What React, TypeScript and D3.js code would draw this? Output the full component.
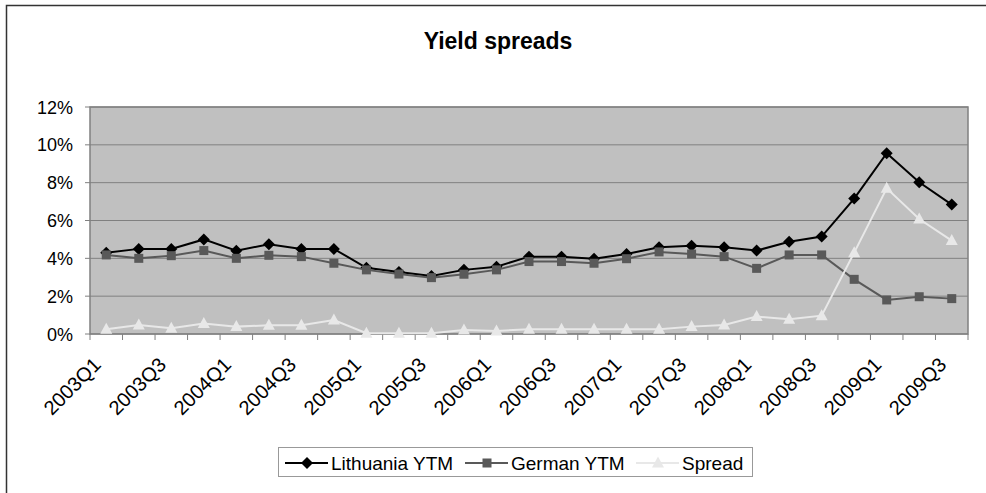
import * as d3 from "d3";

const quarters = [
  "2003Q1", "2003Q2", "2003Q3", "2003Q4",
  "2004Q1", "2004Q2", "2004Q3", "2004Q4",
  "2005Q1", "2005Q2", "2005Q3", "2005Q4",
  "2006Q1", "2006Q2", "2006Q3", "2006Q4",
  "2007Q1", "2007Q2", "2007Q3", "2007Q4",
  "2008Q1", "2008Q2", "2008Q3", "2008Q4",
  "2009Q1", "2009Q2", "2009Q3",
];

const lithuania = [
  4.3, 4.5, 4.5, 5.0, 4.4, 4.75, 4.5, 4.5, 3.5, 3.28, 3.07, 3.39, 3.56,
  4.09, 4.09, 3.98, 4.23, 4.59, 4.66, 4.59, 4.41, 4.88, 5.15, 7.16, 9.56, 8.02, 6.84,
];
const german = [
  4.18, 4.0, 4.14, 4.41, 4.0, 4.16, 4.09, 3.74, 3.39, 3.17, 2.98, 3.16, 3.39,
  3.83, 3.83, 3.74, 3.98, 4.34, 4.23, 4.09, 3.47, 4.18, 4.18, 2.89, 1.8, 1.97, 1.87,
];
const spread = [
  0.25, 0.48, 0.3, 0.56, 0.39, 0.46, 0.46, 0.74, 0.04, 0.04, 0.04, 0.21, 0.16,
  0.25, 0.25, 0.25, 0.25, 0.25, 0.39, 0.48, 0.92, 0.78, 0.97, 4.3, 7.7, 6.08, 4.94,
];

const yTicks = [0, 2, 4, 6, 8, 10, 12];

const W = 986;
const H = 493;
const left = 90;
const right = 968;
const top = 107;
const bottom = 334;
const font = "'Liberation Sans', Arial, sans-serif";

const series = [
  { name: "Lithuania YTM", values: lithuania, color: "#000000", marker: "diamond" },
  { name: "German YTM", values: german, color: "#595959", marker: "square" },
  { name: "Spread", values: spread, color: "#e8e8e8", marker: "triangle" },
];

const Marker = ({ type, x, y, color }: { type: string; x: number; y: number; color: string }) => {
  if (type === "diamond") {
    return <path d={`M${x},${y - 6}L${x + 6},${y}L${x},${y + 6}L${x - 6},${y}Z`} fill={color} />;
  }
  if (type === "square") {
    return <rect x={x - 4.5} y={y - 4.5} width={9} height={9} fill={color} />;
  }
  return <path d={`M${x},${y - 6.5}L${x + 6},${y + 4.5}L${x - 6},${y + 4.5}Z`} fill={color} />;
};

export default function App() {
  const x = d3.scaleBand().domain(quarters).range([left, right]);
  const y = d3.scaleLinear().domain([0, 12]).range([bottom, top]);
  const cx = (q: string) => (x(q) as number) + x.bandwidth() / 2;

  const line = (vals: number[]) =>
    d3
      .line<number>()
      .x((_, i) => cx(quarters[i]))
      .y((v) => y(v))(vals) as string;

  // legend line start / text start
  const legendItems = [
    { x0: 285, tx: 331 },
    { x0: 465, tx: 511 },
    { x0: 636, tx: 682 },
  ];

  return (
    <svg
      width={W}
      height={H}
      style={{ position: "absolute", left: 0, top: 0, background: "#fff" }}
      fontFamily={font}
    >
      <rect x={6.5} y={5.5} width={W} height={H} fill="none" stroke="#333" strokeWidth={1.5} />
      <text x={498} y={49} textAnchor="middle" fontSize={23} fontWeight="bold">
        Yield spreads
      </text>

      <rect x={left} y={top} width={right - left} height={bottom - top} fill="#c0c0c0" />
      {yTicks.map((t) => (
        <g key={t}>
          <line x1={left - 5} x2={right} y1={y(t)} y2={y(t)} stroke="#808080" strokeWidth={1} />
          <text x={73} y={y(t) + 6.5} textAnchor="end" fontSize={18}>
            {t}%
          </text>
        </g>
      ))}
      <rect x={left} y={top} width={right - left} height={bottom - top} fill="none" stroke="#808080" strokeWidth={1.5} />

      {quarters.concat([""]).map((q, i) => {
        const xx = left + i * x.bandwidth();
        return <line key={i} x1={xx} x2={xx} y1={bottom} y2={bottom + 6} stroke="#808080" />;
      })}
      {quarters.map((q, i) =>
        i % 2 === 0 ? (
          <text
            key={q}
            transform={`translate(${cx(q) - 9},${bottom + 27}) rotate(-45)`}
            textAnchor="end"
            fontSize={20}
            dy="0.35em"
          >
            {q}
          </text>
        ) : null
      )}

      {series.map((s) => (
        <g key={s.name}>
          <path d={line(s.values)} fill="none" stroke={s.color} strokeWidth={2} />
          {s.values.map((v, i) => (
            <Marker key={i} type={s.marker} x={cx(quarters[i])} y={y(v)} color={s.color} />
          ))}
        </g>
      ))}

      <rect x={278.5} y={447.5} width={474} height={29} fill="#fff" stroke="#999" />
      {series.map((s, i) => {
        const it = legendItems[i];
        return (
          <g key={s.name}>
            <line x1={it.x0} x2={it.x0 + 43} y1={463} y2={463} stroke={s.color} strokeWidth={2} />
            <Marker type={s.marker} x={it.x0 + 22} y={463} color={s.color} />
            <text x={it.tx} y={470} fontSize={19}>
              {s.name}
            </text>
          </g>
        );
      })}
    </svg>
  );
}
